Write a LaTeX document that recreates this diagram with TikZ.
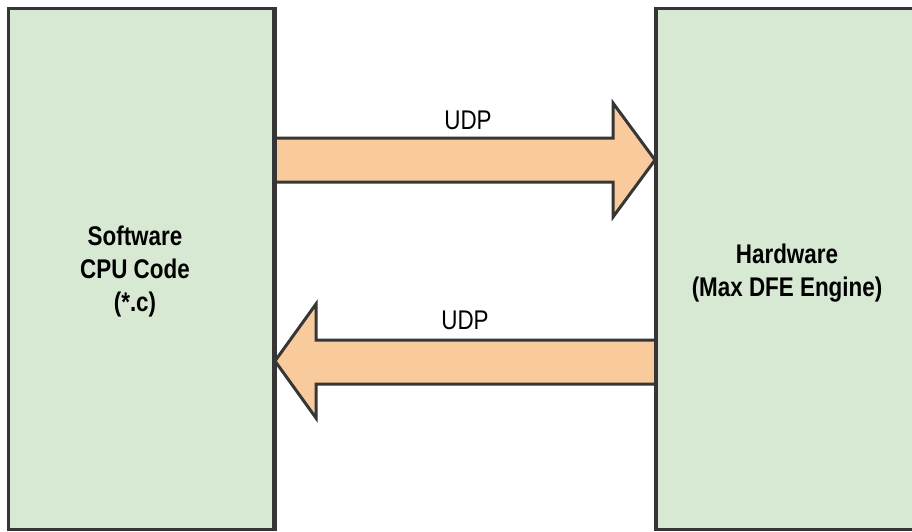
\documentclass[tikz,border=0pt]{standalone}
\usepackage{fontspec}
\setmainfont{Liberation Sans}[FakeStretch=0.83]
\usetikzlibrary{positioning,calc}
\definecolor{boxgreen}{HTML}{D7E9D3}
\definecolor{pipeorange}{HTML}{F9CB9C}
\definecolor{edgegray}{HTML}{363636}
\begin{document}
\begin{tikzpicture}
[x=1pt,y=-1pt,line join=miter,
  block/.style={draw=edgegray,fill=boxgreen,line width=3pt,inner sep=0pt},
  blocktext/.style={align=center,inner sep=0pt,
    font=\fontsize{27}{33}\selectfont\bfseries},
  pipe/.style={draw=edgegray,fill=pipeorange,line width=3pt},
  proto/.style={font=\fontsize{27}{33}\selectfont,inner sep=0pt}]
\useasboundingbox (0,0) rectangle (912,531);
%% nodes or blocks
\node[block,minimum width=265pt,minimum height=521pt] (cpu) at (141,269) {};
\node[block,minimum width=261pt,minimum height=521pt] (dfe) at (787,269) {};
\node[blocktext] (cputext) at ($(cpu.center)+(-6,3)$)
  {Software\\CPU Code\\(*.c)};
\node[blocktext] (dfetext) at ($(dfe.center)+(0,4)$)
  {Hardware\\(Max DFE Engine)};
%% ends of the two pipes
\coordinate (outstart) at (cpu.east |- 0,160);
\coordinate (outtip) at (dfe.west |- 0,160);
\coordinate (backstart) at (dfe.west |- 0,361);
\coordinate (backtip) at (cpu.east |- 0,361);
%% pipes or connectors
\draw[pipe] (outstart) ++(0,-22) -- ($(outtip)+(-42,-22)$) -- ($(outtip)+(-42,-57)$)
  -- (outtip) -- ($(outtip)+(-42,57)$) -- ($(outtip)+(-42,22)$)
  -- ($(outstart)+(0,22)$);
\draw[pipe] (backstart) ++(0,-21) -- ($(backtip)+(41,-21)$) -- ($(backtip)+(41,-57)$)
  -- (backtip) -- ($(backtip)+(41,57)$) -- ($(backtip)+(41,23)$)
  -- ($(backstart)+(0,23)$);
%% redraw box edges over pipe ends
\draw[draw=edgegray,line width=3pt] (cpu.north east) -- (cpu.south east);
\draw[draw=edgegray,line width=3pt] (dfe.north west) -- (dfe.south west);
%% labels
\node[proto] (udpout) at (468,120) {UDP};
\node[proto] (udpback) at (465,320) {UDP};
\end{tikzpicture}
\end{document}
